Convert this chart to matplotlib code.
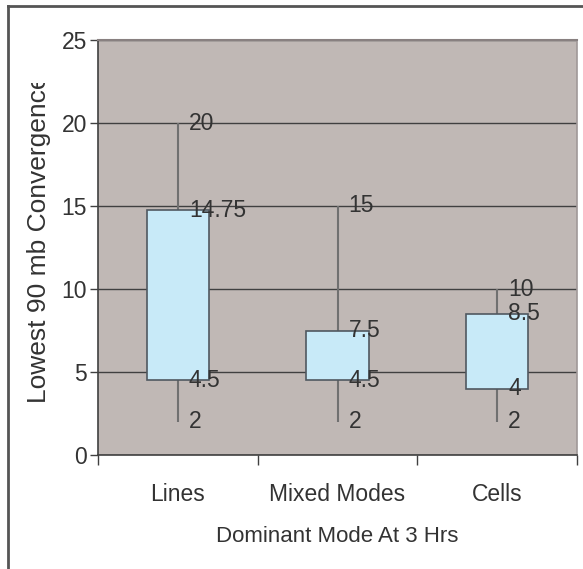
import matplotlib
matplotlib.use("Agg")
import matplotlib.pyplot as plt
from matplotlib.patches import Rectangle
from matplotlib.lines import Line2D
from matplotlib import transforms

plt.rcParams['font.family'] = ['Liberation Sans', 'DejaVu Sans']

categories = ["Lines", "Mixed Modes", "Cells"]
mins = [2, 2, 2]
q1 = [4.5, 4.5, 4]
q3 = [14.75, 7.5, 8.5]
maxs = [20, 15, 10]
label_mins = ["2", "2", "2"]
label_q1 = ["4.5", "4.5", "4"]
label_q3 = ["14.75", "7.5", "8.5"]
label_maxs = ["20", "15", "10"]
yticks = [0, 5, 10, 15, 20, 25]

W, H = 583, 569
fig = plt.figure(figsize=(W / 100, H / 100), dpi=100)
fig.patch.set_facecolor("white")

ax = fig.add_axes([98 / W, (H - 455) / H, (577 - 98) / W, (455 - 40) / H])
ax.set_facecolor("#C0B8B5")
ax.set_xlim(-0.5, len(categories) - 0.5)
ax.set_ylim(0, 25)

txtc = "#333333"
fs = 16.5

# gridlines
ax.set_yticks(yticks)
ax.yaxis.grid(True, color="#404040", lw=1.0)
ax.set_axisbelow(True)

bw = 0.39
off = transforms.offset_copy(ax.transData, fig=fig, x=11, y=0, units="dots")
for i, c in enumerate(categories):
    ax.plot([i, i], [mins[i], maxs[i]], color="#707070", lw=1.5, zorder=2, solid_capstyle="butt")
    ax.add_patch(Rectangle((i - bw / 2, q1[i]), bw, q3[i] - q1[i], facecolor="#C8EAF8",
                           edgecolor="#505860", lw=1.2, zorder=3))
    for v, s in [(mins[i], label_mins[i]), (q1[i], label_q1[i]), (q3[i], label_q3[i]), (maxs[i], label_maxs[i])]:
        ax.text(i, v, s, transform=off, ha="left", va="center", fontsize=fs, color=txtc, zorder=5)

# x ticks at boundaries, labels at centers
ax.set_xticks([-0.5, 0.5, 1.5, 2.5])
ax.set_xticklabels([])
ax.tick_params(axis="x", direction="out", length=7, color="#404040", width=1)
ax.set_xticks(range(len(categories)), minor=True)
ax.set_xticklabels(categories, minor=True, fontsize=fs, color=txtc)
ax.tick_params(axis="x", which="minor", length=0, pad=20)
ax.tick_params(axis="y", direction="out", length=6, color="#404040", width=1,
               labelsize=fs, labelcolor=txtc, pad=2)

for s in ["left", "bottom"]:
    ax.spines[s].set_color("#404040")
    ax.spines[s].set_linewidth(1.2)
ax.spines["top"].set_color("#888080")
ax.spines["top"].set_linewidth(1.5)
ax.spines["right"].set_color("#A09898")
ax.spines["right"].set_linewidth(1.2)

fig.text(337 / W, (H - 537) / H, "Dominant Mode At 3 Hrs", ha="center", va="center",
         fontsize=16, color=txtc)

# y label, clipped at top like the original
yl = fig.text(39 / W, (H - 403) / H, "Lowest 90 mb Convergence", rotation=90,
              ha="center", va="bottom", fontsize=19, color=txtc)
clip = transforms.Bbox.from_extents(0, 0, W, H - 83)
yl.set_clip_box(clip)
yl.set_clip_on(True)

# outer chart border (left and top visible)
fig.add_artist(Line2D([7.5 / W, 7.5 / W], [0, (H - 5.5) / H], color="#555555", lw=2,
                      transform=fig.transFigure))
fig.add_artist(Line2D([7.5 / W, 1], [(H - 5.5) / H, (H - 5.5) / H], color="#555555", lw=2,
                      transform=fig.transFigure))

fig.savefig("out.png", dpi=100)
